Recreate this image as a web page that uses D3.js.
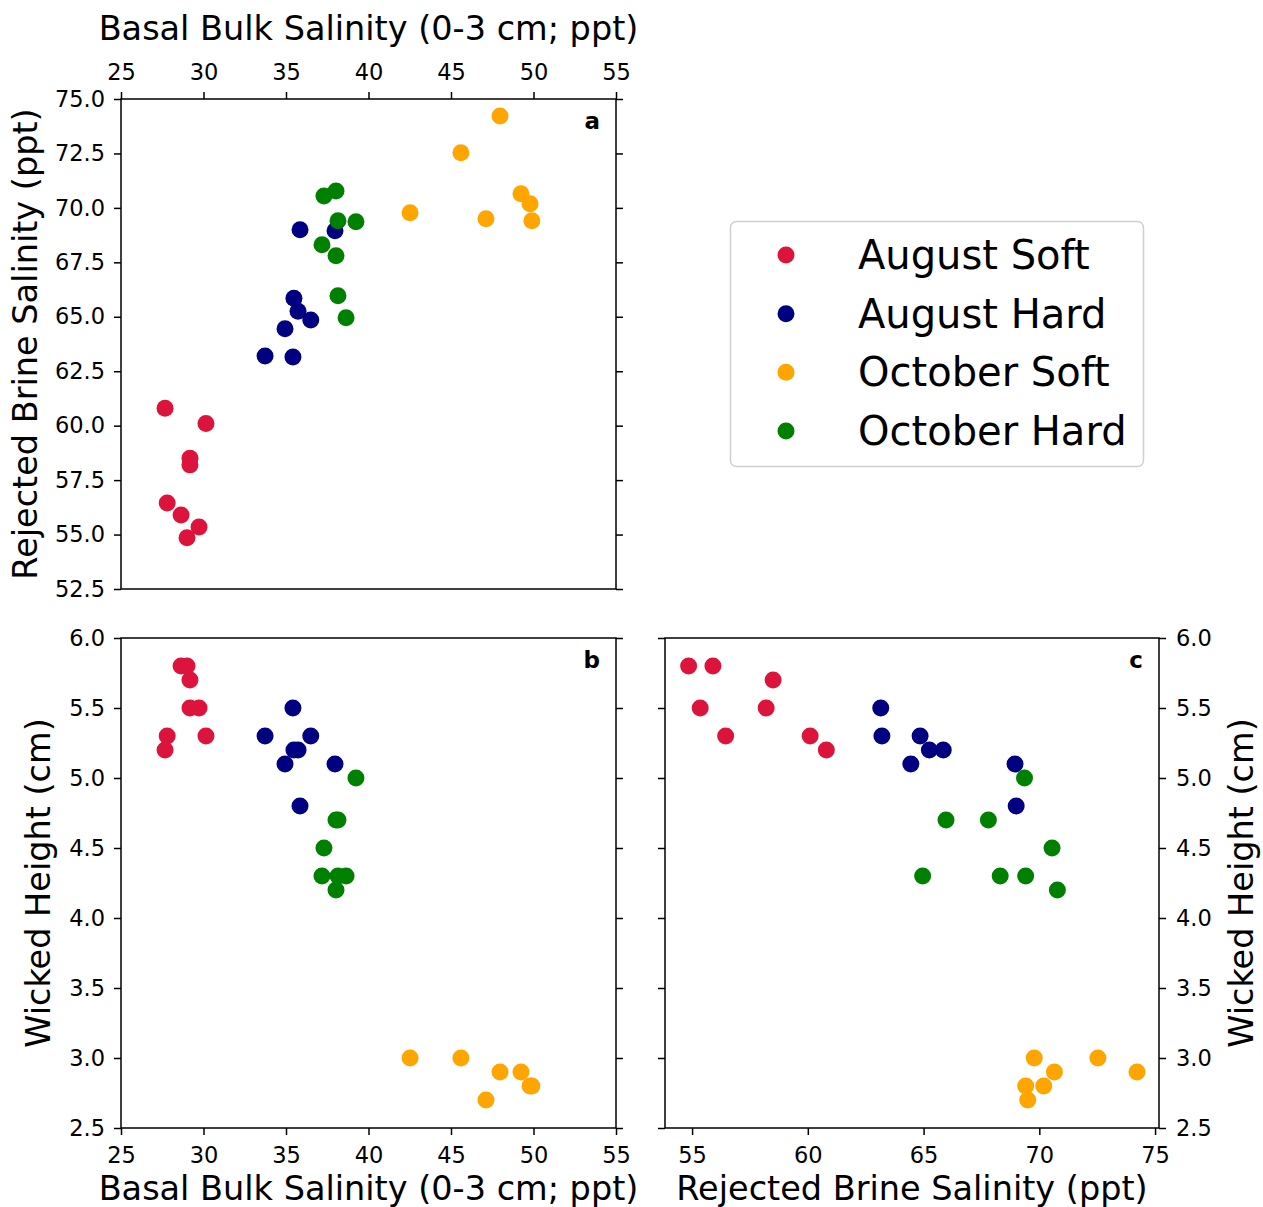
<!DOCTYPE html>
<html lang="en">

<head>
   <meta charset="UTF-8">
   <title>Salinity vs Wicked Height</title>
   <script src="https://d3js.org/d3.v7.min.js"></script>
   <style>
      body {
         margin: 0;
         background: #fff;
         font-family: "DejaVu Sans", sans-serif;
      }

      .tick text {
         font-family: "DejaVu Sans", sans-serif;
         font-size: 22.5px;
         fill: #000;
      }

      .tick line {
         stroke: #000;
         stroke-width: 1.5;
      }

      .axis-label {
         font-size: 33.5px;
         fill: #000;
      }

      .panel-label {
         font-size: 23px;
         font-weight: bold;
      }

      .legend-label {
         font-size: 40px;
      }
   </style>
</head>

<body>
   <div id="chart"></div>

   <script>
      // series values: basal bulk salinity, rejected brine salinity, wicked height
      const augSoftBulk = [27.67, 30.15, 29.18, 29.18, 27.8, 28.64, 29.73, 29.0];
      const augSoftBrine = [60.8, 60.1, 58.5, 58.2, 56.45, 55.9, 55.35, 54.85];
      const augSoftHeight = [5.2, 5.3, 5.7, 5.5, 5.3, 5.8, 5.5, 5.8];

      const augHardBulk = [35.85, 37.97, 35.48, 35.73, 34.94, 36.5, 33.73, 35.42];
      const augHardBrine = [69.0, 68.95, 65.85, 65.25, 64.45, 64.85, 63.2, 63.15];
      const augHardHeight = [4.8, 5.1, 5.2, 5.2, 5.1, 5.3, 5.3, 5.5];

      const octSoftBulk = [47.97, 45.6, 49.24, 49.79, 42.52, 47.12, 49.9];
      const octSoftBrine = [74.22, 72.53, 70.65, 70.19, 69.78, 69.5, 69.41];
      const octSoftHeight = [2.9, 3.0, 2.9, 2.8, 3.0, 2.7, 2.8];

      const octHardBulk = [38.03, 37.3, 38.15, 39.24, 37.18, 38.03, 38.15, 38.64];
      const octHardBrine = [70.78, 70.55, 69.41, 69.36, 68.31, 67.8, 65.97, 64.96];
      const octHardHeight = [4.2, 4.5, 4.3, 5.0, 4.3, 4.7, 4.7, 4.3];

      const seriesNames = ['August Soft', 'August Hard', 'October Soft', 'October Hard'];
      const seriesColors = ['#dc143c', '#000080', '#ffa500', '#008000'];

      // tick labels
      const bulkTicks = [25, 30, 35, 40, 45, 50, 55];
      const brineYTicks = [52.5, 55, 57.5, 60, 62.5, 65, 67.5, 70, 72.5, 75];
      const brineXTicks = [55, 60, 65, 70, 75];
      const heightTicks = [2.5, 3, 3.5, 4, 4.5, 5, 5.5, 6];

      const bulkCols = [augSoftBulk, augHardBulk, octSoftBulk, octHardBulk];
      const brineCols = [augSoftBrine, augHardBrine, octSoftBrine, octHardBrine];
      const heightCols = [augSoftHeight, augHardHeight, octSoftHeight, octHardHeight];

      // flatten to one row per point
      const points = [];
      seriesNames.forEach((name, s) => {
         bulkCols[s].forEach((b, i) => {
            points.push({ series: s, bulk: b, brine: brineCols[s][i], height: heightCols[s][i] });
         });
      });

      const width = 1263;
      const height = 1207;
      const r = 8.5;

      const svg = d3.select('#chart')
         .append('svg')
         .attr('width', width)
         .attr('height', height);

      // scales
      const xBulk = d3.scaleLinear().domain([25, 55]).range([121, 616]);
      const yBrine = d3.scaleLinear().domain([52.5, 75]).range([589, 99]);
      const yHeight = d3.scaleLinear().domain([2.5, 6]).range([1128, 638]);
      const xBrine = d3.scaleLinear().domain([53.83, 75.17]).range([665, 1159]);

      const fmt1 = d3.format('.1f');
      const fmt0 = d3.format('d');

      function addAxis(axis, tx, ty, showLabels) {
         const g = svg.append('g')
            .attr('transform', `translate(${tx},${ty})`)
            .call(axis);
         g.select('.domain').remove();
         if (!showLabels) g.selectAll('.tick text').remove();
         return g;
      }

      function panel(xScale, yScale, xKey, yKey, label) {
         const [x0, x1] = xScale.range();
         const [y1, y0] = yScale.range();

         svg.append('g')
            .selectAll('circle')
            .data(points)
            .enter()
            .append('circle')
            .attr('cx', d => xScale(d[xKey]))
            .attr('cy', d => yScale(d[yKey]))
            .attr('r', r)
            .attr('fill', d => seriesColors[d.series]);

         svg.append('rect')
            .attr('x', x0)
            .attr('y', y0)
            .attr('width', x1 - x0)
            .attr('height', y1 - y0)
            .attr('fill', 'none')
            .attr('stroke', '#000')
            .attr('stroke-width', 1.5);

         svg.append('text')
            .attr('class', 'panel-label')
            .attr('x', x1 - 16)
            .attr('y', y0 + 30)
            .attr('text-anchor', 'end')
            .text(label);
      }

      // panel a
      panel(xBulk, yBrine, 'bulk', 'brine', 'a');
      addAxis(d3.axisTop(xBulk).tickValues(bulkTicks).tickFormat(fmt0).tickSize(7).tickPadding(12), 0, 99, true);
      addAxis(d3.axisLeft(yBrine).tickValues(brineYTicks).tickFormat(fmt1).tickSize(7).tickPadding(9), 121, 0, true);
      addAxis(d3.axisRight(yBrine).tickValues(brineYTicks).tickSize(7), 616, 0, false);

      // panel b
      panel(xBulk, yHeight, 'bulk', 'height', 'b');
      addAxis(d3.axisBottom(xBulk).tickValues(bulkTicks).tickFormat(fmt0).tickSize(7).tickPadding(12), 0, 1128, true);
      addAxis(d3.axisLeft(yHeight).tickValues(heightTicks).tickFormat(fmt1).tickSize(7).tickPadding(9), 121, 0, true);
      addAxis(d3.axisRight(yHeight).tickValues(heightTicks).tickSize(7), 616, 0, false);

      // panel c
      panel(xBrine, yHeight, 'brine', 'height', 'c');
      addAxis(d3.axisBottom(xBrine).tickValues(brineXTicks).tickFormat(fmt0).tickSize(7).tickPadding(12), 0, 1128, true);
      addAxis(d3.axisRight(yHeight).tickValues(heightTicks).tickFormat(fmt1).tickSize(7).tickPadding(10), 1159, 0, true);
      addAxis(d3.axisLeft(yHeight).tickValues(heightTicks).tickSize(7), 665, 0, false);

      // axis titles
      svg.append('text')
         .attr('class', 'axis-label')
         .attr('x', 368.5)
         .attr('y', 40)
         .attr('text-anchor', 'middle')
         .text('Basal Bulk Salinity (0-3 cm; ppt)');

      svg.append('text')
         .attr('class', 'axis-label')
         .attr('x', 368.5)
         .attr('y', 1200)
         .attr('text-anchor', 'middle')
         .text('Basal Bulk Salinity (0-3 cm; ppt)');

      svg.append('text')
         .attr('class', 'axis-label')
         .attr('x', 912)
         .attr('y', 1200)
         .attr('text-anchor', 'middle')
         .text('Rejected Brine Salinity (ppt)');

      svg.append('text')
         .attr('class', 'axis-label')
         .attr('transform', 'translate(37,344) rotate(-90)')
         .attr('text-anchor', 'middle')
         .text('Rejected Brine Salinity (ppt)');

      svg.append('text')
         .attr('class', 'axis-label')
         .attr('transform', 'translate(50,883) rotate(-90)')
         .attr('text-anchor', 'middle')
         .text('Wicked Height (cm)');

      svg.append('text')
         .attr('class', 'axis-label')
         .attr('transform', 'translate(1253,883) rotate(-90)')
         .attr('text-anchor', 'middle')
         .text('Wicked Height (cm)');

      // legend
      const legend = svg.append('g').attr('transform', 'translate(730,221)');

      legend.append('rect')
         .attr('x', 0.5)
         .attr('y', 0.5)
         .attr('width', 413)
         .attr('height', 245)
         .attr('rx', 6)
         .attr('fill', '#fff')
         .attr('stroke', '#d0d0d0')
         .attr('stroke-width', 1.5);

      const rowY = d3.scalePoint().domain(seriesNames).range([34, 210]);

      const items = legend.selectAll('.legend-item')
         .data(seriesNames)
         .enter()
         .append('g')
         .attr('transform', d => `translate(0,${rowY(d)})`);

      items.append('circle')
         .attr('cx', 56)
         .attr('r', r)
         .attr('fill', (d, i) => seriesColors[i]);

      items.append('text')
         .attr('class', 'legend-label')
         .attr('x', 128)
         .attr('dy', '0.35em')
         .text(d => d);
   </script>
</body>

</html>
